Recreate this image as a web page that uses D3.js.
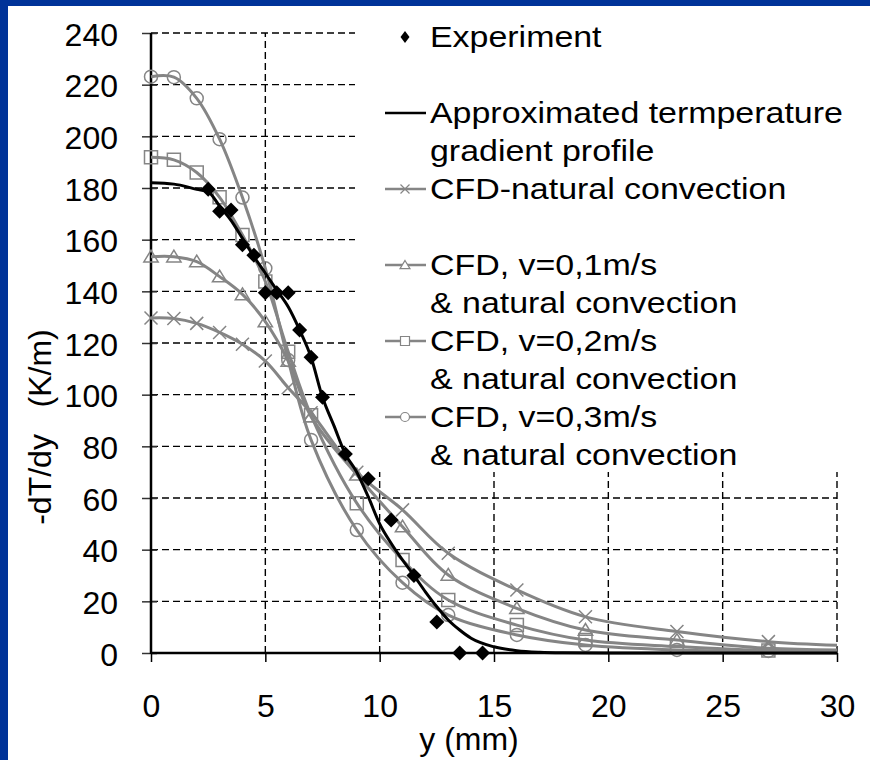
<!DOCTYPE html>
<html>
<head>
<meta charset="utf-8">
<script src="https://cdn.jsdelivr.net/npm/d3@7"></script>
<style>
  html, body { margin: 0; padding: 0; background: #fff; overflow: hidden; }
  svg { display: block; }
  svg text { font-family: "Liberation Sans", Arial, sans-serif; fill: #000; }
</style>
</head>
<body>
<svg id="chart" width="870" height="760"></svg>
<script>
// Temperature gradient profiles: experiment vs CFD

const xTicks = [0, 5, 10, 15, 20, 25, 30];
const yTicks = [0, 20, 40, 60, 80, 100, 120, 140, 160, 180, 200, 220, 240];

// Experiment (diamonds)
const expX = [2.5, 3, 3.5, 4, 4.5, 5, 5.5, 6, 6.5, 7, 7.5, 8.5, 9.5, 10.5, 11.5, 12.5, 13.5, 14.5];
const expY = [179.5, 171, 171.5, 158, 154, 139.5, 139.5, 139.5, 125, 114.5, 99, 77, 67.5, 51.5, 30, 12, 0, 0];

// Approximated temperature gradient profile (black line)
const approxX = [0, 1, 2, 2.5, 3, 3.5, 4, 4.5, 5, 5.5, 6, 6.5, 7, 7.5, 8, 8.5, 9, 9.5, 10, 10.5, 11, 11.5, 12, 12.5, 13, 13.5, 14, 15, 16, 17, 18, 20, 25, 30];
const approxY = [182, 181.5, 179.5, 178.5, 173, 167.5, 160.5, 153.5, 147, 140.5, 134, 125, 114.5, 99, 88, 77, 70, 60.5, 50, 42.5, 36, 30, 23.7, 17.9, 12.8, 8.9, 5.7, 2.4, 0.9, 0.3, 0.1, 0, 0, 0];

// CFD series, sampled at the same y positions
const cfdX = [0, 1, 2, 3, 4, 5, 6, 7, 9, 11, 13, 16, 19, 23, 27, 30];
const cfdNatural = [129.7, 129.5, 127.6, 124.1, 119.5, 113, 102.7, 93, 70, 55.4, 38.6, 24.4, 14, 8.3, 4.4, 3.0];
const cfdV01 = [153.4, 153.4, 151.5, 145.7, 138.8, 128.3, 113, 91.5, 69, 48.9, 30.2, 17.3, 8.9, 5.0, 1.8, 1.2];
const cfdV02 = [191.9, 190.9, 186, 176.4, 161.8, 143.8, 116.6, 92, 58, 36, 20.5, 10.8, 5, 2.5, 1.0, 0.8];
const cfdV03 = [223.1, 222.9, 214.7, 198.9, 176.3, 148.9, 113.4, 82.5, 47.6, 27.2, 14.7, 7, 3.1, 1.2, 0.8, 0.5];

const seriesNames = [
    'Experiment',
    'Approximated termperature|gradient profile',
    'CFD-natural convection',
    'CFD, v=0,1m/s|& natural convection',
    'CFD, v=0,2m/s|& natural convection',
    'CFD, v=0,3m/s|& natural convection'
];
const legendRows = [0, 2, 4, 6, 8, 10];

const grey = '#858585';
const svg = d3.select('#chart');

// frame
svg.append('rect').attr('width', 870).attr('height', 760).attr('fill', '#fff');
svg.append('rect').attr('width', 8).attr('height', 760).attr('fill', '#003399');
svg.append('rect').attr('width', 870).attr('height', 6).attr('fill', '#003399');

const x = d3.scaleLinear().domain([0, 30]).range([151, 837]);
const y = d3.scaleLinear().domain([0, 240]).range([653, 33]);

// gridlines
const grid = svg.append('g').attr('stroke', '#000').attr('stroke-width', 1.4).attr('stroke-dasharray', '7,4');
grid.selectAll('line.h').data(yTicks.filter(d => d > 0)).join('line')
    .attr('class', 'h')
    .attr('x1', x(0)).attr('x2', x(30))
    .attr('y1', d => y(d)).attr('y2', d => y(d));
grid.selectAll('line.v').data(xTicks.filter(d => d > 0)).join('line')
    .attr('class', 'v')
    .attr('x1', d => x(d)).attr('x2', d => x(d))
    .attr('y1', y(0)).attr('y2', y(240));

// legend background hides the grid behind it
svg.append('rect').attr('x', 355).attr('y', 12).attr('width', 510).attr('height', 460).attr('fill', '#fff');

// axes
const yAxis = svg.append('g')
    .attr('transform', `translate(${x(0)},0)`)
    .call(d3.axisLeft(y).tickValues(yTicks).tickSize(9).tickPadding(24));
yAxis.select('.domain').remove();
yAxis.selectAll('.tick line').attr('x2', -9).attr('x1', 6).attr('stroke', '#333').attr('stroke-width', 1.5);
yAxis.selectAll('.tick text').attr('font-size', 32).attr('dy', '0.38em')
    .style('font-family', '"Liberation Sans", Arial, sans-serif');

const xAxis = svg.append('g')
    .attr('transform', `translate(0,${y(0)})`)
    .call(d3.axisBottom(x).tickValues(xTicks).tickSize(9).tickPadding(32));
xAxis.select('.domain').remove();
xAxis.selectAll('.tick line').attr('stroke', '#000').attr('stroke-width', 1.5);
xAxis.selectAll('.tick text').attr('font-size', 32)
    .style('font-family', '"Liberation Sans", Arial, sans-serif');

svg.append('line').attr('x1', x(0)).attr('x2', x(0)).attr('y1', y(0) + 1).attr('y2', y(240))
    .attr('stroke', '#000').attr('stroke-width', 2.5);
svg.append('line').attr('x1', x(0)).attr('x2', x(30)).attr('y1', y(0)).attr('y2', y(0))
    .attr('stroke', '#000').attr('stroke-width', 2.5);

// axis titles
svg.append('text')
    .attr('transform', 'translate(51,427) rotate(-90)')
    .attr('text-anchor', 'middle')
    .attr('font-size', 32)
    .style('white-space', 'pre')
    .text('-dT/dy   (K/m)');
svg.append('text')
    .attr('x', 469).attr('y', 750)
    .attr('text-anchor', 'middle')
    .attr('font-size', 32)
    .text('y (mm)');

// marker paths
const timesPath = s => `M${-s},${-s}L${s},${s}M${-s},${s}L${s},${-s}`;
const diamondPath = (w, h) => `M0,${-h}L${w},0L0,${h}L${-w},0Z`;
const markers = {
    times: s => timesPath(s),
    triangle: s => `M0,${-s}L${s * 1.1},${s * 0.8}L${-s * 1.1},${s * 0.8}Z`,
    square: s => `M${-s},${-s}H${s}V${s}H${-s}Z`,
    circle: s => d3.symbol(d3.symbolCircle, Math.PI * s * s)()
};

const cfdSeries = [
    { values: cfdNatural, marker: 'times' },
    { values: cfdV01, marker: 'triangle' },
    { values: cfdV02, marker: 'square' },
    { values: cfdV03, marker: 'circle' }
];

const smooth = d3.line().curve(d3.curveCatmullRom.alpha(0.5));

const plot = svg.append('g');

cfdSeries.forEach(s => {
    const pts = cfdX.map((xv, i) => [x(xv), y(s.values[i])]);
    plot.append('path')
        .attr('d', smooth(pts))
        .attr('fill', 'none')
        .attr('stroke', grey)
        .attr('stroke-width', 3);
    plot.append('g').selectAll('path')
        .data(pts.filter((p, i) => cfdX[i] < 30))
        .join('path')
        .attr('transform', p => `translate(${p[0]},${p[1]})`)
        .attr('d', markers[s.marker](6.5))
        .attr('fill', 'none')
        .attr('stroke', grey)
        .attr('stroke-width', 1.5);
});

// approximated profile
plot.append('path')
    .attr('d', d3.line().curve(d3.curveMonotoneX)(approxX.map((xv, i) => [x(xv), y(approxY[i])])))
    .attr('fill', 'none')
    .attr('stroke', '#000')
    .attr('stroke-width', 3);

// experiment
plot.append('g').selectAll('path')
    .data(expX.map((xv, i) => [x(xv), y(expY[i])]))
    .join('path')
    .attr('transform', p => `translate(${p[0]},${p[1]})`)
    .attr('d', diamondPath(7.5, 7.5))
    .attr('fill', '#000');

// legend
const legend = svg.append('g');
const rowBase = k => 47 + 38 * k;
seriesNames.forEach((name, i) => {
    const row = legendRows[i];
    const cy = rowBase(row) - 10;
    const sym = legend.append('g').attr('transform', `translate(405,${cy})`);
    if (i === 0) {
        sym.append('path').attr('d', diamondPath(4.5, 6)).attr('fill', '#000');
    } else if (i === 1) {
        sym.append('line').attr('x1', -20).attr('x2', 21).attr('stroke', '#000').attr('stroke-width', 2.5);
    } else {
        const m = cfdSeries[i - 2].marker;
        sym.append('line').attr('x1', -20).attr('x2', 21).attr('stroke', grey).attr('stroke-width', 2.5);
        sym.append('path').attr('d', markers[m](4.5))
            .attr('fill', m === 'times' ? 'none' : '#fff')
            .attr('stroke', grey).attr('stroke-width', 1.2);
    }
    name.split('|').forEach((line, j) => {
        legend.append('text')
            .attr('transform', `translate(430,${rowBase(row + j)}) scale(1.17,1)`)
            .attr('font-size', 29)
            .text(line);
    });
});
</script>
</body>
</html>
